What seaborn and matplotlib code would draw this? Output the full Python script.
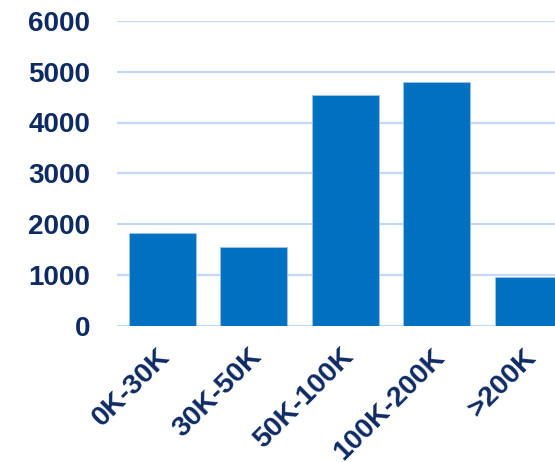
import matplotlib
matplotlib.use("Agg")
import matplotlib.pyplot as plt
import matplotlib.transforms as mtransforms
import seaborn as sns
import pandas as pd

# dane
categories = ["0K-30K", "30K-50K", "50K-100K", "100K-200K", ">200K"]
counts = [1820, 1545, 4540, 4800, 960]
y_ticks = [0, 1000, 2000, 3000, 4000, 5000, 6000]

df = pd.DataFrame({"range": categories, "count": counts})

sns.set_theme(style="white")
plt.rcParams["font.family"] = ["Liberation Sans", "DejaVu Sans"]

navy = "#0E2A63"
bar_blue = "#0070C0"
grid_blue = "#C3D8FA"

fig = plt.figure(figsize=(5.55, 4.62), dpi=100)
ax = fig.add_axes([116.7 / 555, (462 - 325.7) / 462, (573.7 - 116.7) / 555, (325.7 - 20.9) / 462])

sns.barplot(data=df, x="range", y="count", color=bar_blue, saturation=1,
            width=0.73, edgecolor="#9CC3EC", linewidth=0.6, ax=ax, zorder=3)

ax.set_xlim(-0.5, 4.5)
ax.set_ylim(0, 6000)
ax.set_yticks(y_ticks)
ax.yaxis.grid(True, color=grid_blue, linewidth=1.6, zorder=0)
ax.set_axisbelow(True)
for s in ax.spines.values():
    s.set_visible(False)
ax.set_xlabel("")
ax.set_ylabel("")
ax.tick_params(axis="y", length=0, pad=19, labelsize=20, labelcolor=navy)
ax.tick_params(axis="x", length=0, pad=13, labelsize=20.5, labelcolor=navy)
for lab in ax.get_yticklabels():
    lab.set_fontweight("bold")
# przesuniecie etykiet osi X w lewo
shift = mtransforms.ScaledTranslation(-5 / 100, 0, fig.dpi_scale_trans)
for lab in ax.get_xticklabels():
    lab.set_fontweight("bold")
    lab.set_rotation(45)
    lab.set_ha("right")
    lab.set_rotation_mode("anchor")
    lab.set_transform(lab.get_transform() + shift)

fig.savefig("out.png", dpi=100)
